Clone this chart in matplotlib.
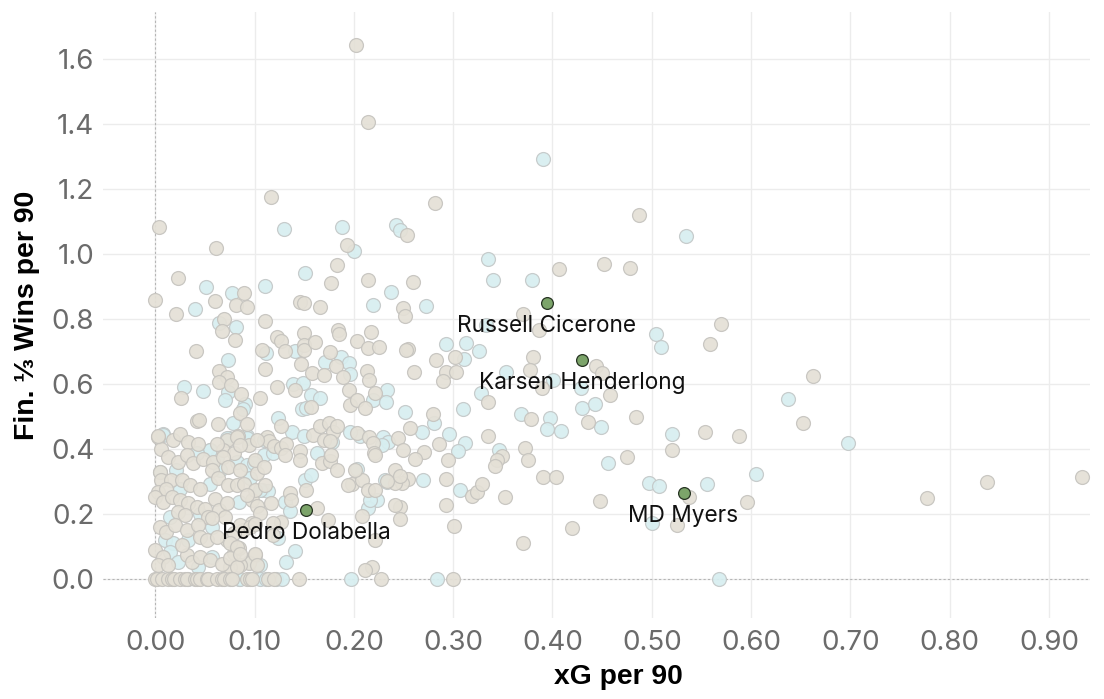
import matplotlib
matplotlib.use("Agg")
import matplotlib.pyplot as plt
from matplotlib.ticker import FormatStrFormatter
import numpy as np

plt.rcParams['font.family'] = ['Inter', 'DejaVu Sans']

# other players (beige)
other_x = [
    0.202, 0.214, 0.117, 0.004, 0.061, 0.282, 0.193, 0.253, 0.183, 0.023, 0.177, 0.214, 0.260, 0.089, 0.060, 0.0, 0.146, 0.150,
    0.487, 0.407, 0.452, 0.478, 0.249, 0.251, 0.370, 0.386, 0.570, 0.559, 0.254, 0.283, 0.302, 0.380, 0.444, 0.450, 0.261,
    0.293, 0.303, 0.290, 0.377, 0.458, 0.389,
    0.280, 0.335, 0.378, 0.436, 0.484, 0.257, 0.286, 0.335, 0.271, 0.262, 0.295, 0.349, 0.344, 0.342, 0.372, 0.375, 0.475,
    0.520, 0.554, 0.588, 0.254, 0.248, 0.293, 0.319, 0.324, 0.329, 0.352, 0.390, 0.404, 0.293, 0.301, 0.370, 0.420, 0.448,
    0.538, 0.596, 0.525, 0.300, 0.246, 0.246,
    0.662, 0.652, 0.777, 0.838, 0.933,
    0.021, 0.081, 0.092, 0.166, 0.069, 0.067, 0.080, 0.110, 0.041, 0.064, 0.072, 0.064, 0.076, 0.026, 0.086, 0.085, 0.105,
    0.107, 0.110, 0.123, 0.127, 0.131, 0.150, 0.150, 0.150, 0.161, 0.147, 0.158, 0.176, 0.170, 0.182, 0.189, 0.184, 0.185,
    0.203, 0.217, 0.214, 0.225, 0.195, 0.213, 0.215, 0.196, 0.203, 0.211, 0.221, 0.252, 0.141, 0.123, 0.157,
    0.127, 0.159, 0.166, 0.175, 0.179, 0.183, 0.170, 0.176, 0.203, 0.215, 0.219, 0.220, 0.244, 0.042, 0.063, 0.092, 0.072,
    0.083, 0.068, 0.079, 0.094, 0.112, 0.115, 0.120, 0.127, 0.132, 0.131, 0.146, 0.146, 0.168, 0.176, 0.183, 0.198, 0.208,
    0.214, 0.221, 0.241, 0.208, 0.218, 0.177, 0.201, 0.221, 0.241, 0.249, 0.241, 0.221, 0.211, 0.102, 0.097, 0.102, 0.117,
    0.136, 0.137, 0.152, 0.163, 0.174, 0.127, 0.119, 0.105, 0.097, 0.088, 0.100, 0.094, 0.085, 0.075, 0.079, 0.084, 0.072,
    0.079, 0.119, 0.194, 0.233, 0.246,
    0.003, 0.018, 0.025, 0.033, 0.043, 0.062, 0.082, 0.085, 0.102, 0.006, 0.013, 0.023, 0.032, 0.038, 0.048, 0.058, 0.057,
    0.068, 0.073, 0.085, 0.100, 0.109, 0.005, 0.006, 0.016, 0.027, 0.035, 0.045, 0.063, 0.073, 0.082, 0.089, 0.100, 0.110,
    0.003, 0.011, 0.0, 0.008, 0.017, 0.025, 0.033, 0.042, 0.050, 0.060, 0.064, 0.023, 0.030, 0.053, 0.072, 0.070, 0.092,
    0.005, 0.011, 0.020, 0.032, 0.043, 0.045, 0.052, 0.062, 0.057, 0.075, 0.082, 0.085, 0.095, 0.100, 0.0, 0.008, 0.003,
    0.013, 0.032, 0.037, 0.045, 0.055, 0.067, 0.075, 0.082, 0.085, 0.100, 0.102, 0.027, 0.044, 0.003,
    0.0, 0.002, 0.007, 0.013, 0.017, 0.019, 0.025, 0.030, 0.032, 0.040, 0.042, 0.045, 0.052, 0.053, 0.062, 0.067, 0.069,
    0.075, 0.077, 0.092, 0.095, 0.097, 0.114, 0.120, 0.145, 0.227,
]
other_y = [
    1.644, 1.407, 1.177, 1.082, 1.018, 1.156, 1.029, 1.060, 0.965, 0.928, 0.910, 0.919, 0.913, 0.879, 0.855, 0.859, 0.852, 0.849,
    1.119, 0.954, 0.971, 0.957, 0.834, 0.811, 0.815, 0.767, 0.784, 0.725, 0.707, 0.673, 0.685, 0.685, 0.656, 0.634, 0.636,
    0.638, 0.638, 0.610, 0.644, 0.567, 0.588,
    0.507, 0.546, 0.494, 0.485, 0.498, 0.464, 0.415, 0.439, 0.391, 0.371, 0.368, 0.380, 0.368, 0.347, 0.405, 0.368, 0.377,
    0.399, 0.454, 0.442, 0.308, 0.295, 0.308, 0.255, 0.268, 0.292, 0.254, 0.313, 0.313, 0.227, 0.165, 0.110, 0.159, 0.242,
    0.254, 0.239, 0.166, 0.0, 0.223, 0.185,
    0.626, 0.482, 0.251, 0.300, 0.313,
    0.817, 0.842, 0.836, 0.836, 0.800, 0.765, 0.735, 0.793, 0.703, 0.639, 0.623, 0.606, 0.598, 0.557, 0.569, 0.511, 0.558,
    0.706, 0.646, 0.745, 0.734, 0.703, 0.757, 0.721, 0.706, 0.730, 0.663, 0.635, 0.700, 0.628, 0.656, 0.623, 0.767, 0.755,
    0.734, 0.759, 0.712, 0.714, 0.583, 0.639, 0.613, 0.535, 0.551, 0.528, 0.574, 0.706, 0.582, 0.590, 0.531,
    0.470, 0.444, 0.472, 0.480, 0.454, 0.470, 0.429, 0.424, 0.451, 0.436, 0.418, 0.388, 0.434, 0.487, 0.478, 0.478, 0.429,
    0.439, 0.398, 0.388, 0.413, 0.437, 0.426, 0.411, 0.403, 0.416, 0.383, 0.393, 0.367, 0.357, 0.365, 0.336, 0.292, 0.306,
    0.275, 0.273, 0.295, 0.193, 0.039, 0.382, 0.336, 0.382, 0.336, 0.398, 0.228, 0.121, 0.029, 0.326, 0.244, 0.224, 0.234,
    0.265, 0.244, 0.273, 0.218, 0.183, 0.177, 0.172, 0.203, 0.172, 0.152, 0.075, 0.049, 0.044, 0.039, 0.080, 0.095, 0.121,
    0.142, 0.136, 0.290, 0.303, 0.316,
    0.438, 0.428, 0.448, 0.423, 0.417, 0.417, 0.438, 0.412, 0.428, 0.402, 0.376, 0.361, 0.382, 0.356, 0.371, 0.361, 0.335,
    0.376, 0.346, 0.335, 0.366, 0.346, 0.330, 0.305, 0.305, 0.305, 0.289, 0.279, 0.310, 0.289, 0.289, 0.294, 0.274, 0.289,
    0.269, 0.279, 0.253, 0.238, 0.253, 0.243, 0.233, 0.223, 0.217, 0.248, 0.212, 0.207, 0.197, 0.192, 0.233, 0.192, 0.258,
    0.161, 0.146, 0.166, 0.151, 0.166, 0.130, 0.120, 0.130, 0.187, 0.110, 0.100, 0.166, 0.161, 0.171, 0.089, 0.069, 0.043,
    0.043, 0.074, 0.053, 0.069, 0.058, 0.048, 0.064, 0.038, 0.079, 0.079, 0.043, 0.105, 0.490, 0.441,
    0.0, 0.0, 0.0, 0.0, 0.0, 0.0, 0.0, 0.0, 0.0, 0.0, 0.0, 0.0, 0.0, 0.0, 0.0, 0.0, 0.0,
    0.0, 0.0, 0.0, 0.0, 0.0, 0.0, 0.0, 0.0, 0.0,
]

# team players (light cyan)
team_x = [
    0.130, 0.188, 0.242, 0.246, 0.200, 0.335, 0.340, 0.151, 0.051, 0.077, 0.110, 0.237, 0.390, 0.534, 0.379, 0.273, 0.504,
    0.509, 0.293, 0.313, 0.326, 0.311, 0.353, 0.401, 0.328, 0.429, 0.333,
    0.251, 0.281, 0.310, 0.368, 0.398, 0.394, 0.409, 0.430, 0.443, 0.449, 0.269, 0.296, 0.312, 0.305, 0.346, 0.456, 0.520,
    0.270, 0.307, 0.497, 0.507, 0.556, 0.500, 0.284, 0.568,
    0.637, 0.698, 0.605,
    0.040, 0.219, 0.064, 0.081, 0.073, 0.029, 0.048, 0.073, 0.070, 0.090, 0.088, 0.111, 0.141, 0.171, 0.187, 0.195, 0.196,
    0.219, 0.233, 0.232, 0.157, 0.166, 0.139, 0.149, 0.148, 0.152,
    0.229, 0.234, 0.233,
    0.124, 0.138, 0.150, 0.178, 0.206, 0.008, 0.078, 0.074, 0.092, 0.055, 0.062, 0.109, 0.119, 0.163, 0.203, 0.231, 0.223,
    0.214, 0.196, 0.228, 0.216,
    0.107, 0.114, 0.131, 0.151, 0.157, 0.136, 0.141, 0.132, 0.105, 0.124,
    0.008, 0.055, 0.072, 0.092, 0.109, 0.021, 0.042, 0.065, 0.082, 0.092, 0.099, 0.025, 0.055, 0.084, 0.095, 0.105, 0.015,
    0.045, 0.010, 0.018, 0.033, 0.057, 0.015, 0.023, 0.043, 0.057, 0.094, 0.005,
    0.033, 0.084, 0.105, 0.111, 0.122, 0.128, 0.197, 0.085,
]
team_y = [
    1.076, 1.082, 1.088, 1.075, 1.011, 0.985, 0.919, 0.943, 0.900, 0.879, 0.903, 0.882, 1.293, 1.057, 0.919, 0.840, 0.754,
    0.714, 0.722, 0.726, 0.701, 0.677, 0.636, 0.613, 0.574, 0.588, 0.782,
    0.513, 0.479, 0.524, 0.509, 0.497, 0.463, 0.457, 0.528, 0.540, 0.468, 0.454, 0.446, 0.418, 0.394, 0.396, 0.357, 0.446,
    0.305, 0.274, 0.297, 0.288, 0.292, 0.174, 0.0, 0.0,
    0.553, 0.420, 0.325,
    0.830, 0.842, 0.788, 0.777, 0.675, 0.590, 0.580, 0.577, 0.550, 0.539, 0.523, 0.697, 0.703, 0.669, 0.683, 0.666, 0.631,
    0.551, 0.583, 0.546, 0.568, 0.556, 0.601, 0.605, 0.523, 0.526,
    0.436, 0.423, 0.300,
    0.495, 0.452, 0.441, 0.421, 0.439, 0.446, 0.480, 0.434, 0.439, 0.398, 0.377, 0.383, 0.388, 0.388, 0.338, 0.306, 0.244,
    0.218, 0.453, 0.413, 0.244,
    0.275, 0.270, 0.239, 0.306, 0.321, 0.210, 0.088, 0.054, 0.044, 0.126,
    0.443, 0.397, 0.433, 0.433, 0.428, 0.335, 0.387, 0.335, 0.361, 0.351, 0.356, 0.279, 0.294, 0.238, 0.310, 0.274, 0.192,
    0.202, 0.120, 0.110, 0.120, 0.161, 0.084, 0.053, 0.038, 0.069, 0.053, 0.331,
    0.0, 0.0, 0.0, 0.0, 0.0, 0.0, 0.0, 0.0,
]

# highlighted players
hl_names = ["Russell Cicerone", "Karsen Henderlong", "MD Myers", "Pedro Dolabella"]
hl_x = [0.394, 0.430, 0.532, 0.152]
hl_y = [0.850, 0.673, 0.265, 0.213]

fig = plt.figure(figsize=(11.04, 6.99), dpi=100)
ax = fig.add_axes([0.093, 0.116, 0.894, 0.867])

ax.scatter(team_x, team_y, s=100, c='#d7eef0', edgecolors='#c4c9c9', linewidths=0.9, alpha=0.92, zorder=3)
ax.scatter(other_x, other_y, s=100, c='#e4e0d6', edgecolors='#c6c4bf', linewidths=0.9, alpha=0.92, zorder=3)
ax.scatter(hl_x, hl_y, s=72, c='#7ca46a', edgecolors='#263322', linewidths=0.9, zorder=5)

for name, x, y in zip(hl_names, hl_x, hl_y):
    ax.annotate(name, (x, y), xytext=(0, -16.5), textcoords='offset points',
                ha='center', va='center', fontsize=16.3, color='#111111', zorder=6)

# reference lines at zero
ax.axhline(0, color='#b5b5b5', linestyle=(0, (2, 2)), linewidth=0.8, zorder=2)
ax.axvline(0, color='#b5b5b5', linestyle=(0, (2, 2)), linewidth=0.8, zorder=2)

ax.set_xlim(-0.053, 0.941)
ax.set_ylim(-0.119, 1.745)
ax.set_xticks(np.arange(0, 0.91, 0.1))
ax.set_yticks(np.arange(0, 1.61, 0.2))
ax.xaxis.set_major_formatter(FormatStrFormatter('%.2f'))
ax.yaxis.set_major_formatter(FormatStrFormatter('%.1f'))

ax.grid(True, color='#ececec', linewidth=1.0, zorder=0)
ax.set_axisbelow(True)
for s in ax.spines.values():
    s.set_visible(False)
ax.tick_params(length=0, labelsize=20, labelcolor='#6b6b6b')
ax.tick_params(axis='x', pad=9)
ax.tick_params(axis='y', pad=6)

lab_font = ['Liberation Sans', 'DejaVu Sans']
ax.set_xlabel('xG per 90', fontsize=20.3, fontweight='bold', family=lab_font)
ax.xaxis.label.set_verticalalignment('baseline')
ax.xaxis.set_label_coords(0.523, -0.109)
ax.set_ylabel('Fin. ⅓ Wins per 90', fontsize=20.5, fontweight='bold', family=lab_font, labelpad=8)

fig.savefig('out.png', dpi=100)
